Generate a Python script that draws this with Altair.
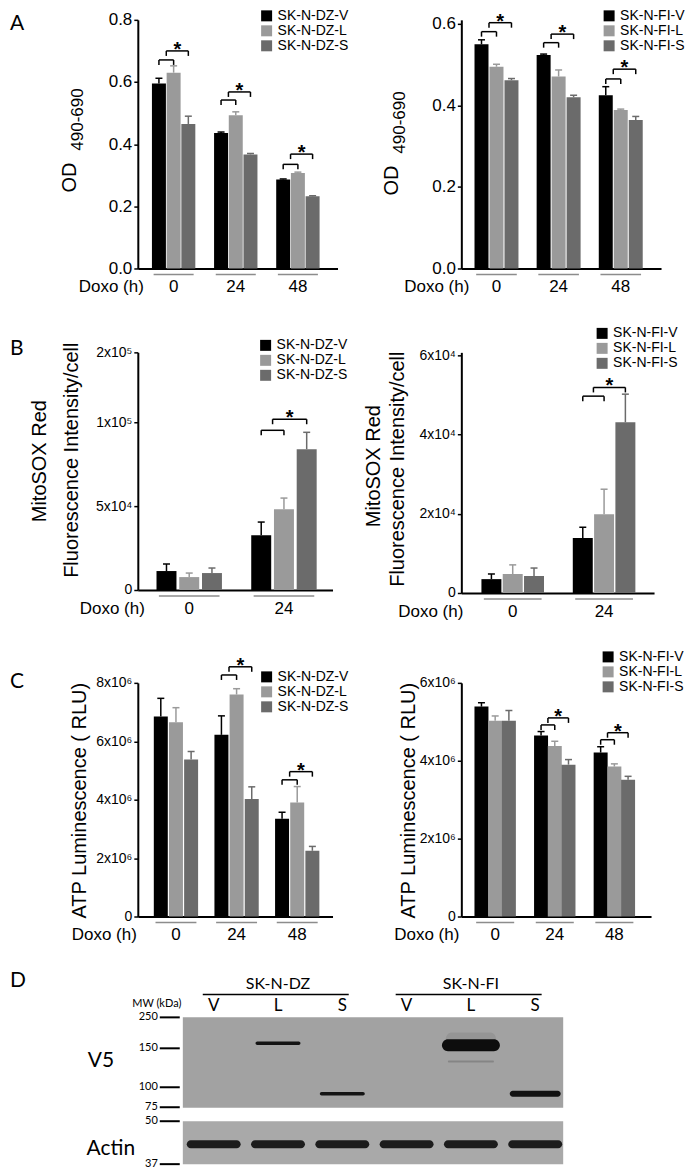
import altair as alt
import pandas as pd

FONT = "Liberation Sans"
LFONT = "Lato"
COLORS = ["#000000", "#9a9a9a", "#6b6b6b"]
UNDERLINE = "#8c8c8c"

# ---------------- data ----------------
GROUPS_3 = ["0", "24", "48"]
GROUPS_2 = ["0", "24"]
DZ_NAMES = ["SK-N-DZ-V", "SK-N-DZ-L", "SK-N-DZ-S"]
FI_NAMES = ["SK-N-FI-V", "SK-N-FI-L", "SK-N-FI-S"]

# A: OD 490-690
A_DZ_V = [0.595, 0.436, 0.286]
A_DZ_L = [0.630, 0.493, 0.307]
A_DZ_S = [0.465, 0.367, 0.232]
A_DZ_V_ERR = [0.017, 0.003, 0.002]
A_DZ_L_ERR = [0.022, 0.011, 0.003]
A_DZ_S_ERR = [0.025, 0.003, 0.002]
A_DZ_SIG = ["0", "24", "48"]
A_DZ_SIG_LO = [0.671, 0.542, 0.335]
A_DZ_SIG_HI = [0.700, 0.568, 0.368]

A_FI_V = [0.550, 0.524, 0.425]
A_FI_L = [0.495, 0.471, 0.389]
A_FI_S = [0.462, 0.420, 0.364]
A_FI_V_ERR = [0.011, 0.002, 0.021]
A_FI_L_ERR = [0.006, 0.016, 0.002]
A_FI_S_ERR = [0.004, 0.005, 0.009]
A_FI_SIG = ["0", "24", "48"]
A_FI_SIG_LO = [0.581, 0.554, 0.465]
A_FI_SIG_HI = [0.603, 0.575, 0.489]

# B: MitoSOX Red fluorescence intensity / cell
B_DZ_V = [11300, 32700]
B_DZ_L = [7700, 48200]
B_DZ_S = [10100, 83900]
B_DZ_V_ERR = [4200, 7800]
B_DZ_L_ERR = [2400, 6600]
B_DZ_S_ERR = [3000, 10100]
B_DZ_SIG = ["24"]
B_DZ_SIG_LO = [95200]
B_DZ_SIG_HI = [104300]

B_FI_V = [3500, 13900]
B_FI_L = [4800, 19900]
B_FI_S = [4300, 43100]
B_FI_V_ERR = [1300, 2700]
B_FI_L_ERR = [2300, 6300]
B_FI_S_ERR = [2000, 7100]
B_FI_SIG = ["24"]
B_FI_SIG_LO = [49700]
B_FI_SIG_HI = [51900]

# C: ATP luminescence (RLU)
C_DZ_V = [6.85e6, 6.22e6, 3.35e6]
C_DZ_L = [6.65e6, 7.60e6, 3.90e6]
C_DZ_S = [5.38e6, 4.02e6, 2.25e6]
C_DZ_V_ERR = [0.62e6, 0.65e6, 0.22e6]
C_DZ_L_ERR = [0.50e6, 0.20e6, 0.55e6]
C_DZ_S_ERR = [0.27e6, 0.42e6, 0.15e6]
C_DZ_SIG = ["24", "48"]
C_DZ_SIG_LO = [8.27e6, 4.68e6]
C_DZ_SIG_HI = [8.55e6, 4.96e6]

C_FI_V = [5.39e6, 4.65e6, 4.21e6]
C_FI_L = [5.03e6, 4.38e6, 3.85e6]
C_FI_S = [5.03e6, 3.90e6, 3.51e6]
C_FI_V_ERR = [0.10e6, 0.10e6, 0.15e6]
C_FI_L_ERR = [0.12e6, 0.12e6, 0.07e6]
C_FI_S_ERR = [0.26e6, 0.13e6, 0.09e6]
C_FI_SIG = ["24", "48"]
C_FI_SIG_LO = [4.92e6, 4.54e6]
C_FI_SIG_HI = [5.10e6, 4.72e6]

# D: western blot
D_LANE_LABELS = ["V", "L", "S", "V", "L", "S"]
D_CELL_LINES = ["SK-N-DZ", "SK-N-FI"]
D_CELL_LANES = [[0, 1, 2], [3, 4, 5]]
D_MW_MARKERS = [250, 150, 100, 75, 50, 37]
D_V5_LANE = [1, 2, 4, 4, 4, 5]
D_V5_MW = [166, 92, 182, 160, 133, 92]
D_V5_KIND = ["thin", "thin", "smear", "strong", "faint", "medium"]
D_ACTIN_LANE = [0, 1, 2, 3, 4, 5]
D_ACTIN_MW = [43, 43, 43, 43, 43, 43]
D_V5_PANEL_MW = [74, 250]
D_ACTIN_PANEL_MW = [37, 50]


# ---------------- helpers ----------------
def label(text, x, y, size, font=FONT, angle=0, align="center",
          baseline="middle", weight="normal"):
    return alt.Chart(pd.DataFrame({"t": [text]})).mark_text(
        font=font, fontSize=size, angle=angle, align=align, baseline=baseline,
        fontWeight=weight, color="black"
    ).encode(x=alt.value(x), y=alt.value(y), text="t:N")


def tick_expr(vals, labels):
    expr = "''"
    for v, l in reversed(list(zip(vals, labels))):
        expr = f"datum.value == {v} ? '{l}' : ({expr})"
    return expr


def bar_panel(groups, names, vals, errs, sig_groups, sig_lo, sig_hi, lay):
    W, H, u, bw, x0 = lay["W"], lay["H"], lay["u"], lay["bw"], lay["x0"]
    step = lay["G"] / u
    recs = []
    for gi, g in enumerate(groups):
        for si, nm in enumerate(names):
            v, e = vals[si][gi], errs[si][gi]
            recs.append({"group": g, "name": nm, "pos": gi * step + si,
                         "val": v, "top": v + e})
    df = pd.DataFrame(recs)

    xs = alt.Scale(domain=[-x0 / u, (W - x0) / u], nice=False, zero=False)
    ykw = {"domain": lay["ydom"], "nice": False}
    if "yrange" in lay:
        ykw["range"] = lay["yrange"]
    ys = alt.Scale(**ykw)
    cs = alt.Scale(domain=names, range=COLORS)

    xaxis = alt.Axis(labels=False, ticks=False, title=None, grid=False,
                     domainWidth=2, domainColor="black")
    yaxis = alt.Axis(values=lay["yticks"], labelExpr=lay["yexpr"], title=None,
                     grid=False, domainWidth=2, domainColor="black",
                     tickSize=4, tickWidth=1.5, tickColor="black",
                     labelFontSize=lay["lfs"], labelFont=FONT,
                     labelColor="black", labelPadding=2)
    legend = alt.Legend(orient="none", legendX=lay["leg"][0], legendY=lay["leg"][1],
                        direction="vertical", title=None, symbolType="square",
                        symbolSize=121, symbolStrokeWidth=0, symbolOpacity=1,
                        labelFont=FONT, labelFontSize=14, labelColor="black",
                        rowPadding=1, labelOffset=4, padding=0)

    def X(f):
        return alt.X(f, scale=xs, axis=xaxis)

    def Y(f):
        return alt.Y(f, scale=ys, axis=yaxis)

    bars = alt.Chart(df).mark_bar(size=bw).encode(
        x=X("pos:Q"), y=Y("val:Q"),
        color=alt.Color("name:N", scale=cs, legend=legend),
    )
    err = alt.Chart(df).mark_rule(strokeWidth=1.5).encode(
        x=X("pos:Q"), y=Y("val:Q"), y2="top:Q",
        stroke=alt.Stroke("name:N", scale=cs, legend=None),
    )
    caps = alt.Chart(df).mark_tick(orient="horizontal", size=7, thickness=1.5,
                                   opacity=1).encode(
        x=X("pos:Q"), y=Y("top:Q"),
        fill=alt.Fill("name:N", scale=cs, legend=None),
    )

    pad = 0.4 * bw / u
    under = pd.DataFrame({
        "group": groups,
        "x1": [gi * step - pad for gi in range(len(groups))],
        "x2": [gi * step + 2 + pad for gi in range(len(groups))],
        "xc": [gi * step + 1 for gi in range(len(groups))],
    })
    ulines = alt.Chart(under).mark_rule(color=UNDERLINE, strokeWidth=1.5).encode(
        x=X("x1:Q"), x2="x2:Q", y=alt.value(H + 6))
    glabels = alt.Chart(under).mark_text(font=FONT, fontSize=17, baseline="middle",
                                         color="black").encode(
        x=X("xc:Q"), y=alt.value(H + 19), text="group:N")

    br_lines, br_ticks, stars = [], [], []
    for g, lo, hi in zip(sig_groups, sig_lo, sig_hi):
        gi = groups.index(g)
        pv = gi * step
        pl, ps = pv + 1, pv + 2
        pm = (pv + pl) / 2
        br_lines += [{"x1": pv, "x2": pl, "y": lo}, {"x1": pm, "x2": ps, "y": hi}]
        br_ticks += [{"x": pv, "y": lo}, {"x": pl, "y": lo},
                     {"x": pm, "y": hi}, {"x": ps, "y": hi}]
        stars.append({"x": (pm + ps) / 2, "y": hi})
    blines = alt.Chart(pd.DataFrame(br_lines)).mark_rule(
        color="black", strokeWidth=1.5).encode(x=X("x1:Q"), x2="x2:Q", y=Y("y:Q"))
    bticks = alt.Chart(pd.DataFrame(br_ticks)).mark_rule(
        color="black", strokeWidth=1.5, y2Offset=5).encode(
        x=X("x:Q"), y=Y("y:Q"), y2="y:Q")
    bstars = alt.Chart(pd.DataFrame(stars)).mark_text(
        text="*", font=FONT, fontSize=20, fontWeight="bold", baseline="alphabetic",
        dy=5, color="black").encode(x=X("x:Q"), y=Y("y:Q"))

    layers = [bars, err, caps, ulines, glabels, blines, bticks, bstars,
              label("Doxo (h)", lay["doxo"], H + 19, 17, align="right")]
    for t in lay["titles"]:
        layers.append(label(t[0], t[1], t[2], t[3], angle=270, align=t[4]))
    if "letter" in lay:
        lt = lay["letter"]
        layers.append(label(lt[0], -128, lt[1], 21, font=LFONT, align="left",
                            baseline="alphabetic"))
    return alt.layer(*layers).properties(width=W, height=H)


def blot_panel():
    W, H = 200, 147
    lane0, lane_step = 76, 64.4
    xs = alt.Scale(domain=[-lane0 / lane_step, (W - lane0) / lane_step],
                   nice=False, zero=False)
    ys = alt.Scale(domain=[37, 50, 75, 100, 150, 250],
                   range=[147, 104, 90, 70, 31, 0], nice=False, zero=False)

    def X(f):
        return alt.X(f, scale=xs, axis=None)

    def Y(f):
        return alt.Y(f, scale=ys, axis=None)

    first, last = min(D_ACTIN_LANE), max(D_ACTIN_LANE)
    panels = pd.DataFrame({
        "x1": [first - 0.48, first - 0.48], "x2": [last + 0.435, last + 0.435],
        "m1": [D_V5_PANEL_MW[0], D_ACTIN_PANEL_MW[0]],
        "m2": [D_V5_PANEL_MW[1], D_ACTIN_PANEL_MW[1]],
        "panel": ["V5", "Actin"],
    })
    bg = alt.Chart(panels).mark_rect().encode(
        x=X("x1:Q"), x2="x2:Q", y=Y("m1:Q"), y2="m2:Q",
        fill=alt.Fill("panel:N", scale=alt.Scale(domain=["V5", "Actin"],
                                                 range=["#a2a2a2", "#a9a9a9"]),
                      legend=None))

    bands = pd.DataFrame({"lane": D_V5_LANE, "mw": D_V5_MW, "kind": D_V5_KIND})
    actin = pd.DataFrame({"lane": D_ACTIN_LANE, "mw": D_ACTIN_MW})
    styles = {
        "smear": (50, 12, "#959595"),
        "thin": (45, 3.5, "#141414"),
        "strong": (58, 12, "#0d0d0d"),
        "faint": (46, 2, "#858585"),
        "medium": (51, 6, "#111111"),
    }
    band_layers = []
    for kind, (ln, th, col) in styles.items():
        band_layers.append(
            alt.Chart(bands[bands["kind"] == kind]).mark_tick(
                orient="horizontal", size=ln, thickness=th, color=col, opacity=1,
                cornerRadius=th / 2).encode(x=X("lane:Q"), y=Y("mw:Q")))
    band_layers.append(
        alt.Chart(actin).mark_tick(orient="horizontal", size=54, thickness=8,
                                   color="#1c1c1c", opacity=1, cornerRadius=4
                                   ).encode(x=X("lane:Q"), y=Y("mw:Q")))

    markers = pd.DataFrame({"mw": D_MW_MARKERS})
    mrules = alt.Chart(markers).mark_rule(color="black", strokeWidth=2).encode(
        x=alt.value(22), x2=alt.value(42), y=Y("mw:Q"))
    mtext = alt.Chart(markers).mark_text(font=LFONT, fontSize=11, align="right",
                                         baseline="middle", color="black").encode(
        x=alt.value(20), y=Y("mw:Q"), text="mw:N")

    lanes = pd.DataFrame({"lane": D_ACTIN_LANE, "lab": D_LANE_LABELS})
    ltext = alt.Chart(lanes).mark_text(font=LFONT, fontSize=17, baseline="middle",
                                       color="black").encode(
        x=X("lane:Q"), y=alt.value(-11), text="lab:N")

    cells = pd.DataFrame({
        "name": D_CELL_LINES,
        "xc": [sum(l) / len(l) for l in D_CELL_LANES],
        "x1": [min(l) - 0.17 for l in D_CELL_LANES],
        "x2": [max(l) + 0.1 for l in D_CELL_LANES],
    })
    ctext = alt.Chart(cells).mark_text(font=LFONT, fontSize=16, baseline="middle",
                                       color="black").encode(
        x=X("xc:Q"), y=alt.value(-33), text="name:N")
    clines = alt.Chart(cells).mark_rule(color="black", strokeWidth=1.5).encode(
        x=X("x1:Q"), x2="x2:Q", y=alt.value(-23))

    layers = [bg] + band_layers + [
        mrules, mtext, ltext, ctext, clines,
        label("MW (kDa)", 19, -13, 11, font=LFONT),
        label("V5", -37, 44, 21, font=LFONT),
        label("Actin", -27, 132, 21, font=LFONT),
        label("D", -128, -30, 21, font=LFONT, align="left", baseline="alphabetic"),
    ]
    return alt.layer(*layers).properties(width=W, height=H)


def spacer(h):
    return alt.Chart(pd.DataFrame({"a": [0]})).mark_point(opacity=0).encode(
        x=alt.value(0), y=alt.value(0)).properties(width=10, height=h)


# ---------------- panels ----------------
a_left = bar_panel(
    GROUPS_3, DZ_NAMES, [A_DZ_V, A_DZ_L, A_DZ_S],
    [A_DZ_V_ERR, A_DZ_L_ERR, A_DZ_S_ERR], A_DZ_SIG, A_DZ_SIG_LO, A_DZ_SIG_HI,
    dict(W=200, H=249, x0=17, u=15.5, G=65.5, bw=14, ydom=[0, 0.8],
         yticks=[0, 0.2, 0.4, 0.6, 0.8], yexpr="format(datum.value, '.1f')",
         lfs=17, leg=(122, -11), doxo=6,
         titles=[("OD", -68, 173, 20, "left"), ("490-690", -60, 131, 17, "left")],
         letter=("A", 10)))

a_right = bar_panel(
    GROUPS_3, FI_NAMES, [A_FI_V, A_FI_L, A_FI_S],
    [A_FI_V_ERR, A_FI_L_ERR, A_FI_S_ERR], A_FI_SIG, A_FI_SIG_LO, A_FI_SIG_HI,
    dict(W=200, H=249, x0=16, u=15.8, G=65.5, bw=14, ydom=[0, 0.61],
         yticks=[0, 0.2, 0.4, 0.6], yexpr="format(datum.value, '.1f')",
         lfs=17, leg=(141, -11), doxo=8,
         titles=[("OD", -69, 176, 20, "left"), ("490-690", -61, 134, 17, "left")]))

b_left = bar_panel(
    GROUPS_2, DZ_NAMES, [B_DZ_V, B_DZ_L, B_DZ_S],
    [B_DZ_V_ERR, B_DZ_L_ERR, B_DZ_S_ERR], B_DZ_SIG, B_DZ_SIG_LO, B_DZ_SIG_HI,
    dict(W=195, H=238, x0=25, u=24, G=100, bw=20,
         ydom=[0, 100000, 200000], yrange=[238, 70, 0],
         yticks=[0, 50000, 100000, 200000],
         yexpr=tick_expr([0, 50000, 100000, 200000], ["0", "5x10⁴", "1x10⁵", "2x10⁵"]),
         lfs=14, leg=(121, -14), doxo=7,
         titles=[("MitoSOX Red", -98, 109, 20, "center"),
                 ("Fluorescence Intensity/cell", -66, 108, 20, "center")],
         letter=("B", 3)))

b_right = bar_panel(
    GROUPS_2, FI_NAMES, [B_FI_V, B_FI_L, B_FI_S],
    [B_FI_V_ERR, B_FI_L_ERR, B_FI_S_ERR], B_FI_SIG, B_FI_SIG_LO, B_FI_SIG_HI,
    dict(W=193, H=241, x0=26.5, u=22.5, G=96.5, bw=20, ydom=[0, 60756],
         yticks=[0, 20000, 40000, 60000],
         yexpr=tick_expr([0, 20000, 40000, 60000], ["0", "2x10⁴", "4x10⁴", "6x10⁴"]),
         lfs=14, leg=(134, -26), doxo=2,
         titles=[("MitoSOX Red", -87, 114, 20, "center"),
                 ("Fluorescence Intensity/cell", -63, 117, 20, "center")]))

c_left = bar_panel(
    GROUPS_3, DZ_NAMES, [C_DZ_V, C_DZ_L, C_DZ_S],
    [C_DZ_V_ERR, C_DZ_L_ERR, C_DZ_S_ERR], C_DZ_SIG, C_DZ_SIG_LO, C_DZ_SIG_HI,
    dict(W=195, H=234, x0=19, u=16, G=64, bw=14, ydom=[0, 8e6],
         yticks=[0, 2e6, 4e6, 6e6, 8e6],
         yexpr=tick_expr([0, 2000000, 4000000, 6000000, 8000000],
                         ["0", "2x10⁶", "4x10⁶", "6x10⁶", "8x10⁶"]),
         lfs=14, leg=(122, -13), doxo=-1,
         titles=[("ATP Luminescence ( RLU)", -58, 118, 20, "center")],
         letter=("C", 5)))

c_right = bar_panel(
    GROUPS_3, FI_NAMES, [C_FI_V, C_FI_L, C_FI_S],
    [C_FI_V_ERR, C_FI_L_ERR, C_FI_S_ERR], C_FI_SIG, C_FI_SIG_LO, C_FI_SIG_HI,
    dict(W=190, H=234, x0=16, u=14.5, G=63, bw=14, ydom=[0, 6e6],
         yticks=[0, 2e6, 4e6, 6e6],
         yexpr=tick_expr([0, 2000000, 4000000, 6000000],
                         ["0", "2x10⁶", "4x10⁶", "6x10⁶"]),
         lfs=14, leg=(140, -33), doxo=-2,
         titles=[("ATP Luminescence ( RLU)", -52, 118, 20, "center")]))

d_blot = blot_panel()

chart = alt.concat(
    a_left, a_right,
    spacer(84), spacer(84),
    b_left, b_right,
    spacer(90), spacer(90),
    c_left, c_right,
    spacer(101), spacer(101),
    d_blot,
    columns=2, spacing={"row": 0, "column": 124}, bounds="flush", align="each",
).resolve_scale(
    color="independent", stroke="independent", fill="independent"
).resolve_legend(
    color="independent", stroke="independent", fill="independent"
).properties(
    padding={"left": 2, "top": 0, "right": 0, "bottom": 0}
).configure_view(strokeWidth=0)

chart.save("out.html", embed_options={"renderer": "svg", "actions": False})
